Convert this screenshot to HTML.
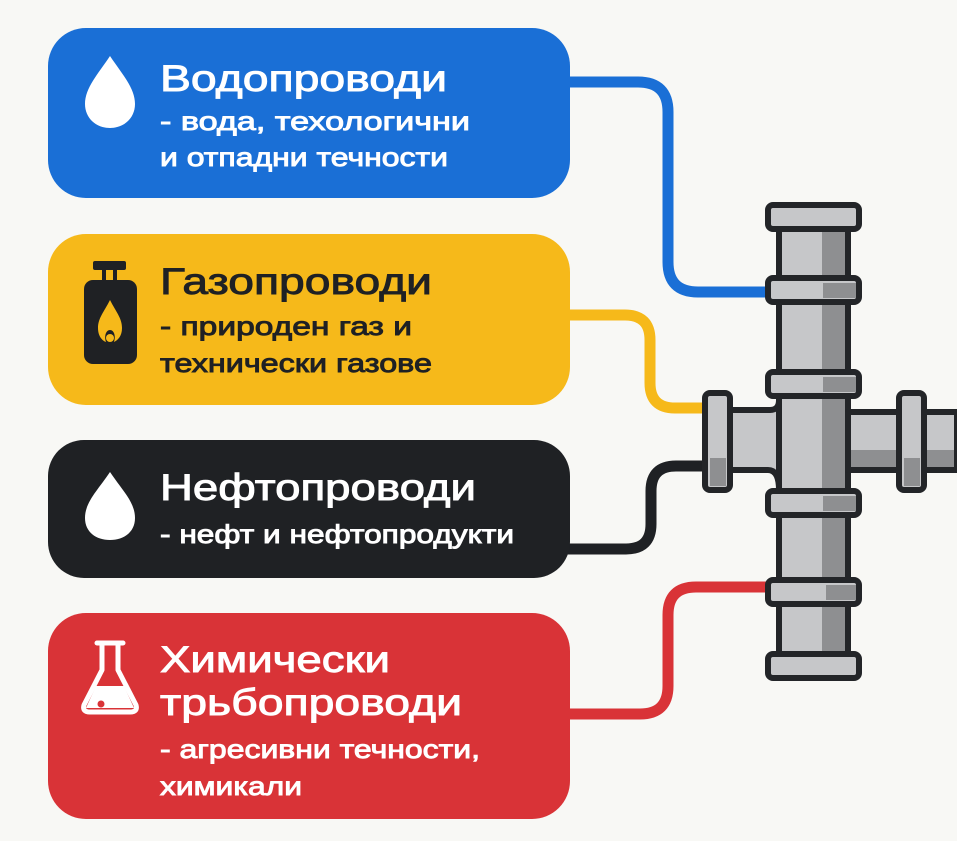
<!DOCTYPE html>
<html><head><meta charset="utf-8"><style>
html,body{margin:0;padding:0;background:#f8f8f5;}
svg{display:block;}
text{font-family:"Liberation Sans","DejaVu Sans",sans-serif;}
</style></head><body>
<svg width="957" height="841" viewBox="0 0 957 841" xmlns="http://www.w3.org/2000/svg">
<rect width="957" height="841" fill="#f8f8f5"/>
<g fill="none" stroke-width="11" stroke-linejoin="round">
<path d="M560 82 H638 Q668 82 668 112 V262 Q668 292 698 292 H770" stroke="#1a6fd6"/>
<path d="M560 315 H625 Q650 315 650 340 V383 Q650 408 675 408 H708" stroke="#f6b91a"/>
<path d="M560 549 H626 Q651 549 651 524 V491 Q651 466 676 466 H708" stroke="#1f2124"/>
<path d="M560 714 H640 Q668 714 668 686 V615 Q668 587 696 587 H770" stroke="#d93337"/>
</g>
<rect x="48" y="28" width="522" height="170" rx="38" fill="#1a6fd6"/>
<rect x="48" y="234" width="522" height="171" rx="38" fill="#f6b91a"/>
<rect x="48" y="440" width="522" height="138" rx="36" fill="#1f2124"/>
<rect x="48" y="613" width="522" height="206" rx="38" fill="#d93337"/>
<path d="M110 56 C98 74 85 88 85 104 C85 118 96 128 110 128 C124 128 135 118 135 104 C135 88 122 74 110 56 Z" fill="#fff"/>
<path d="M110 472 C98 490 85 502 85 518 C85 532 96 540 110 540 C124 540 135 532 135 518 C135 502 122 490 110 472 Z" fill="#fff"/>
<g fill="#1f2124">
<rect x="93" y="261" width="33" height="9" rx="2"/>
<rect x="102" y="269" width="4" height="12"/><rect x="113" y="269" width="4" height="12"/>
<rect x="84" y="280" width="53" height="84" rx="9"/>
</g>
<path d="M110 300 C104 312 98 318 98 328 C98 337 103 341 106 342 C104 336 106 330 110 330 C114 330 116 336 114 342 C118 340 122 336 122 328 C122 318 116 312 110 300 Z" fill="#f6b91a"/>
<circle cx="110" cy="338" r="4" fill="#f6b91a"/>
<g fill="none" stroke="#fff" stroke-width="5" stroke-linejoin="round">
<path d="M102 644 V670 L84 705 Q82 712 90 712 H130 Q138 712 136 705 L118 670 V644"/>
<line x1="97" y1="643" x2="123" y2="643" stroke-linecap="round"/>
</g>
<path d="M96 686 H124 L134 708 H86 Z" fill="#fff"/>
<circle cx="101" cy="704" r="3.5" fill="#d93337"/>
<g fill="#fff" stroke="#fff" stroke-width="0.9">
<text x="160" y="91" font-size="37" textLength="287" lengthAdjust="spacingAndGlyphs">Водопроводи</text>
<text x="160" y="130" font-size="26" textLength="310" lengthAdjust="spacingAndGlyphs">- вода, техологични</text>
<text x="160" y="166" font-size="26" textLength="288" lengthAdjust="spacingAndGlyphs">и отпадни течности</text>
<text x="160" y="500" font-size="37" textLength="316" lengthAdjust="spacingAndGlyphs">Нефтопроводи</text>
<text x="160" y="543" font-size="26" textLength="354" lengthAdjust="spacingAndGlyphs">- нефт и нефтопродукти</text>
<text x="160" y="672" font-size="37" textLength="230" lengthAdjust="spacingAndGlyphs">Химически</text>
<text x="160" y="715" font-size="37" textLength="302" lengthAdjust="spacingAndGlyphs">трьбопроводи</text>
<text x="160" y="758" font-size="26" textLength="320" lengthAdjust="spacingAndGlyphs">- агресивни течности,</text>
<text x="160" y="795" font-size="26" textLength="142" lengthAdjust="spacingAndGlyphs">химикали</text>
</g>
<g fill="#1f2124" stroke="#1f2124" stroke-width="0.9">
<text x="160" y="294" font-size="37" textLength="272" lengthAdjust="spacingAndGlyphs">Газопроводи</text>
<text x="160" y="335" font-size="26" textLength="252" lengthAdjust="spacingAndGlyphs">- природен газ и</text>
<text x="160" y="372" font-size="26" textLength="272" lengthAdjust="spacingAndGlyphs">технически газове</text>
</g>
<g stroke="#232528" stroke-width="6" stroke-linejoin="round">
<rect x="779" y="226" width="69" height="432" fill="#c6c7c9"/>
<rect x="822" y="226" width="26" height="432" fill="#8e8f91" stroke="none"/>
<rect x="779" y="226" width="69" height="432" fill="none"/>
<path d="M728 410 H770 Q779 410 779 400 V490 Q779 470 768 470 H728 Z" fill="#c6c7c9"/>
<rect x="848" y="412" width="109" height="58" fill="#c6c7c9"/>
<rect x="848" y="450" width="109" height="20" fill="#8e8f91" stroke="none"/>
<rect x="848" y="412" width="109" height="58" fill="none"/>
<g fill="#c6c7c9">
<rect x="768" y="205" width="91" height="24" rx="5"/>
<rect x="768" y="278" width="91" height="24" rx="5"/>
<rect x="768" y="372" width="91" height="24" rx="5"/>
<rect x="768" y="491" width="91" height="24" rx="5"/>
<rect x="768" y="580" width="91" height="24" rx="5"/>
<rect x="768" y="654" width="91" height="24" rx="5"/>
<rect x="705" y="393" width="25" height="97" rx="5"/>
<rect x="899" y="393" width="25" height="97" rx="5"/>
</g>
</g>
<g fill="#8e8f91">
<rect x="823" y="283" width="33" height="15"/>
<rect x="823" y="377" width="33" height="15"/>
<rect x="823" y="496" width="33" height="15"/>
<rect x="826" y="585" width="30" height="15"/>
<rect x="710" y="458" width="16" height="28"/>
<rect x="904" y="458" width="16" height="28"/>
</g>
</svg>
</body></html>
